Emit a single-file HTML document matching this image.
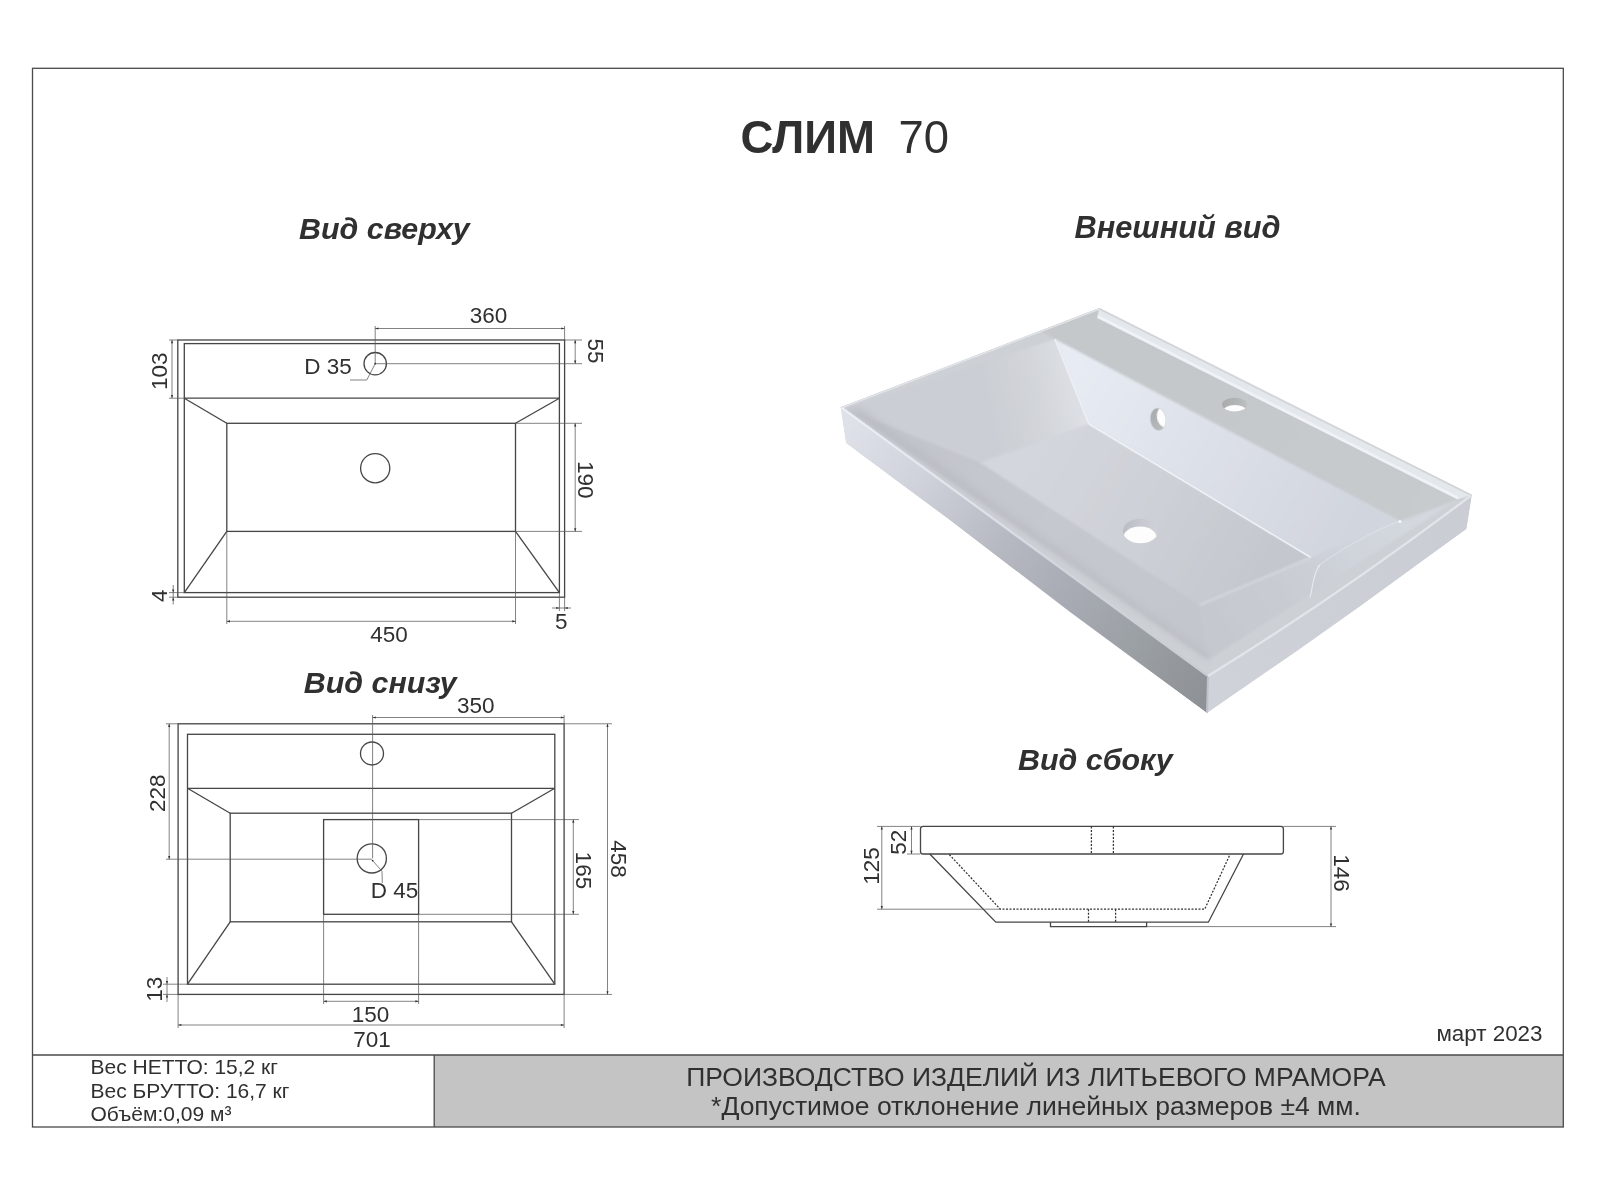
<!DOCTYPE html>
<html lang="ru"><head><meta charset="utf-8"><title>СЛИМ 70</title>
<style>
html,body{margin:0;padding:0;background:#fff;}
body{width:1600px;height:1200px;overflow:hidden;position:relative;font-family:"Liberation Sans",sans-serif;}
svg{position:absolute;left:0;top:0;}
svg text{font-family:"Liberation Sans",sans-serif;fill:#303030;opacity:.999;}
.m{stroke:#464646;stroke-width:1.32;fill:none;}
.t{stroke:#5a5a5a;stroke-width:0.75;fill:none;}
.dot{stroke:#333;stroke-width:1.25;fill:none;stroke-dasharray:2 1.5;}
.ah{fill:#333;stroke:none;}
.d{font-size:22.5px;}
.vt{font-size:30.4px;font-weight:bold;font-style:italic;}
.fr{stroke:#4a4a4a;stroke-width:1.3;fill:none;}
</style></head><body>
<svg width="1600" height="1200" viewBox="0 0 1600 1200">
<rect x="434.2" y="1055" width="1129" height="72" fill="#c4c4c4"/>
<rect class="fr" x="32.5" y="68.3" width="1530.8" height="1058.7" />
<line class="fr" x1="32.5" y1="1055" x2="1563.3" y2="1055"/>
<line class="fr" x1="434.2" y1="1055" x2="434.2" y2="1127"/>
<text x="740.5" y="152.5" font-size="45.6" font-weight="bold" text-anchor="start">СЛИМ</text>
<text x="898.5" y="152.5" font-size="45.4" text-anchor="start">70</text>
<text class="vt" x="299" y="238.5" text-anchor="start">Вид сверху</text>
<text class="vt" x="1074.6" y="237.8" text-anchor="start" style="font-size:30.7px">Внешний вид</text>
<text class="vt" x="303.8" y="692.7" text-anchor="start">Вид снизу</text>
<text class="vt" x="1018" y="769.5" text-anchor="start">Вид сбоку</text>
<text x="90.5" y="1074" font-size="21" text-anchor="start">Вес НЕТТО: 15,2 кг</text>
<text x="90.5" y="1097.5" font-size="21" text-anchor="start">Вес БРУТТО: 16,7 кг</text>
<text x="90.5" y="1120.7" font-size="21" text-anchor="start">Объём:0,09 м³</text>
<text x="1036" y="1086.3" font-size="26.5" text-anchor="middle">ПРОИЗВОДСТВО ИЗДЕЛИЙ ИЗ ЛИТЬЕВОГО МРАМОРА</text>
<text x="1036" y="1115" font-size="26.5" text-anchor="middle">*Допустимое отклонение линейных размеров ±4 мм.</text>
<text x="1542.5" y="1040.5" font-size="22.4" text-anchor="end">март 2023</text>
<rect class="m" x="177.8" y="340" width="386.8" height="257.2" />
<rect class="m" x="184.3" y="343.6" width="375.1" height="249.0" />
<line class="m" x1="184.3" y1="398.2" x2="559.4" y2="398.2"/>
<rect class="m" x="226.8" y="423.3" width="288.7" height="108.1" />
<line class="m" x1="184.3" y1="398.2" x2="226.8" y2="423.3"/>
<line class="m" x1="559.4" y1="398.2" x2="515.5" y2="423.3"/>
<line class="m" x1="184.3" y1="592.6" x2="226.8" y2="531.4"/>
<line class="m" x1="559.4" y1="592.6" x2="515.5" y2="531.4"/>
<circle class="m" cx="375.2" cy="363.7" r="11.2"/>
<circle class="m" cx="375.2" cy="468.2" r="14.6"/>
<line class="t" x1="375.2" y1="326" x2="375.2" y2="363.7"/>
<line class="t" x1="564.6" y1="326" x2="564.6" y2="340"/>
<line class="t" x1="375.2" y1="328.5" x2="564.6" y2="328.5"/>
<path class="ah" d="M375.2 328.5 L378.4 327.4 L378.4 329.6Z"/>
<path class="ah" d="M564.6 328.5 L561.4 327.4 L561.4 329.6Z"/>
<text class="d" x="488.5" y="323.3" text-anchor="middle">360</text>
<line class="t" x1="375.2" y1="363.7" x2="582" y2="363.7"/>
<line class="t" x1="564.6" y1="340" x2="582" y2="340"/>
<line class="t" x1="575.2" y1="340" x2="575.2" y2="363.7"/>
<path class="ah" d="M575.2 340 L574.1 343.2 L576.3000000000001 343.2Z"/>
<path class="ah" d="M575.2 363.7 L574.1 360.5 L576.3000000000001 360.5Z"/>
<text class="d" x="588.3" y="351" text-anchor="middle" transform="rotate(90 588.3 351)">55</text>
<line class="t" x1="515.5" y1="423.3" x2="582" y2="423.3"/>
<line class="t" x1="515.5" y1="531.4" x2="582" y2="531.4"/>
<line class="t" x1="575.2" y1="423.3" x2="575.2" y2="531.4"/>
<path class="ah" d="M575.2 423.3 L574.1 426.5 L576.3000000000001 426.5Z"/>
<path class="ah" d="M575.2 531.4 L574.1 528.1999999999999 L576.3000000000001 528.1999999999999Z"/>
<text class="d" x="578" y="479.8" text-anchor="middle" transform="rotate(90 578 479.8)">190</text>
<line class="t" x1="169" y1="340" x2="177.8" y2="340"/>
<line class="t" x1="169" y1="398.2" x2="184.3" y2="398.2"/>
<line class="t" x1="172" y1="340" x2="172" y2="398.2"/>
<path class="ah" d="M172 340 L170.9 343.2 L173.1 343.2Z"/>
<path class="ah" d="M172 398.2 L170.9 395.0 L173.1 395.0Z"/>
<text class="d" x="167.3" y="371.3" text-anchor="middle" transform="rotate(-90 167.3 371.3)">103</text>
<line class="t" x1="169" y1="592.6" x2="184.3" y2="592.6"/>
<line class="t" x1="169" y1="597.2" x2="177.8" y2="597.2"/>
<line class="t" x1="173.2" y1="585" x2="173.2" y2="604.5"/>
<path class="ah" d="M173.2 592.6 L172.1 589.4 L174.29999999999998 589.4Z"/>
<path class="ah" d="M173.2 597.2 L172.1 600.4000000000001 L174.29999999999998 600.4000000000001Z"/>
<text class="d" x="166.8" y="595.7" text-anchor="middle" transform="rotate(-90 166.8 595.7)">4</text>
<line class="t" x1="559.4" y1="592.6" x2="559.4" y2="611"/>
<line class="t" x1="564.6" y1="597.2" x2="564.6" y2="611"/>
<line class="t" x1="552" y1="608" x2="571" y2="608"/>
<path class="ah" d="M559.4 608 L556.1999999999999 606.9 L556.1999999999999 609.1Z"/>
<path class="ah" d="M564.6 608 L567.8000000000001 606.9 L567.8000000000001 609.1Z"/>
<text class="d" x="561.3" y="628.6" text-anchor="middle">5</text>
<line class="t" x1="226.8" y1="531.4" x2="226.8" y2="624"/>
<line class="t" x1="515.5" y1="531.4" x2="515.5" y2="624"/>
<line class="t" x1="226.8" y1="621.3" x2="515.5" y2="621.3"/>
<path class="ah" d="M226.8 621.3 L230.0 620.1999999999999 L230.0 622.4Z"/>
<path class="ah" d="M515.5 621.3 L512.3 620.1999999999999 L512.3 622.4Z"/>
<text class="d" x="389" y="642" text-anchor="middle">450</text>
<path class="t" d="M375.2 363.7 L366.8 380 L350 380"/>
<circle class="ah" cx="375.2" cy="363.7" r="0.9"/>
<text class="d" x="328" y="374.4" text-anchor="middle">D 35</text>
<rect class="m" x="178.1" y="723.8" width="386.0" height="270.6" />
<rect class="m" x="187.5" y="734.3" width="367.3" height="249.9" />
<line class="m" x1="187.5" y1="788.3" x2="554.8" y2="788.3"/>
<rect class="m" x="230.2" y="813.2" width="281.3" height="108.6" />
<line class="m" x1="187.5" y1="788.3" x2="230.2" y2="813.2"/>
<line class="m" x1="554.8" y1="788.3" x2="511.5" y2="813.2"/>
<line class="m" x1="187.5" y1="984.2" x2="230.2" y2="921.8"/>
<line class="m" x1="554.8" y1="984.2" x2="511.5" y2="921.8"/>
<rect class="m" x="323.6" y="819.6" width="95.0" height="94.7" />
<circle class="m" cx="372" cy="753.5" r="11.5"/>
<circle class="m" cx="371.8" cy="858.4" r="14.6"/>
<line class="t" x1="372.6" y1="715" x2="372.6" y2="858.4"/>
<line class="t" x1="564.1" y1="715" x2="564.1" y2="723.8"/>
<line class="t" x1="372.6" y1="717.5" x2="564.1" y2="717.5"/>
<path class="ah" d="M372.6 717.5 L375.8 716.4 L375.8 718.6Z"/>
<path class="ah" d="M564.1 717.5 L560.9 716.4 L560.9 718.6Z"/>
<text class="d" x="475.7" y="712.6" text-anchor="middle">350</text>
<line class="t" x1="564.1" y1="723.8" x2="612" y2="723.8"/>
<line class="t" x1="564.1" y1="994.4" x2="612" y2="994.4"/>
<line class="t" x1="607.5" y1="723.8" x2="607.5" y2="994.4"/>
<path class="ah" d="M607.5 723.8 L606.4 727.0 L608.6 727.0Z"/>
<path class="ah" d="M607.5 994.4 L606.4 991.1999999999999 L608.6 991.1999999999999Z"/>
<text class="d" x="611.2" y="859" text-anchor="middle" transform="rotate(90 611.2 859)">458</text>
<line class="t" x1="418.6" y1="819.6" x2="579" y2="819.6"/>
<line class="t" x1="418.6" y1="914.3" x2="579" y2="914.3"/>
<line class="t" x1="573.3" y1="819.6" x2="573.3" y2="914.3"/>
<path class="ah" d="M573.3 819.6 L572.1999999999999 822.8000000000001 L574.4 822.8000000000001Z"/>
<path class="ah" d="M573.3 914.3 L572.1999999999999 911.0999999999999 L574.4 911.0999999999999Z"/>
<text class="d" x="576" y="870.4" text-anchor="middle" transform="rotate(90 576 870.4)">165</text>
<line class="t" x1="166" y1="723.8" x2="178.1" y2="723.8"/>
<line class="t" x1="166" y1="859.2" x2="371.8" y2="859.2"/>
<line class="t" x1="169.2" y1="723.8" x2="169.2" y2="859.2"/>
<path class="ah" d="M169.2 723.8 L168.1 727.0 L170.29999999999998 727.0Z"/>
<path class="ah" d="M169.2 859.2 L168.1 856.0 L170.29999999999998 856.0Z"/>
<text class="d" x="164.9" y="793.3" text-anchor="middle" transform="rotate(-90 164.9 793.3)">228</text>
<line class="t" x1="163" y1="984.2" x2="187.5" y2="984.2"/>
<line class="t" x1="163" y1="994.4" x2="178.1" y2="994.4"/>
<line class="t" x1="167" y1="977" x2="167" y2="1002"/>
<path class="ah" d="M167 984.2 L165.9 981.0 L168.1 981.0Z"/>
<path class="ah" d="M167 994.4 L165.9 997.6 L168.1 997.6Z"/>
<text class="d" x="161.8" y="989.2" text-anchor="middle" transform="rotate(-90 161.8 989.2)">13</text>
<line class="t" x1="323.6" y1="914.3" x2="323.6" y2="1004"/>
<line class="t" x1="418.6" y1="914.3" x2="418.6" y2="1004"/>
<line class="t" x1="323.6" y1="1001.3" x2="418.6" y2="1001.3"/>
<path class="ah" d="M323.6 1001.3 L326.8 1000.1999999999999 L326.8 1002.4Z"/>
<path class="ah" d="M418.6 1001.3 L415.40000000000003 1000.1999999999999 L415.40000000000003 1002.4Z"/>
<text class="d" x="370.5" y="1021.7" text-anchor="middle">150</text>
<line class="t" x1="178.1" y1="994.4" x2="178.1" y2="1028"/>
<line class="t" x1="564.1" y1="994.4" x2="564.1" y2="1028"/>
<line class="t" x1="178.1" y1="1025" x2="564.1" y2="1025"/>
<path class="ah" d="M178.1 1025 L181.29999999999998 1023.9 L181.29999999999998 1026.1Z"/>
<path class="ah" d="M564.1 1025 L560.9 1023.9 L560.9 1026.1Z"/>
<text class="d" x="372" y="1047.4" text-anchor="middle">701</text>
<path class="t" d="M372.6 860.6 L382 871.2 L382.3 883"/>
<circle class="ah" cx="372.6" cy="860.6" r="0.9"/>
<text class="d" x="394.5" y="898.3" text-anchor="middle">D 45</text>
<rect class="m" x="920.5" y="826.4" width="362.9" height="27.6" rx="2.5" ry="2.5"/>
<path class="m" d="M929.8 854 L995.8 922.2 L1208.4 922.2 L1243.5 854"/>
<path class="dot" d="M949.3 854.5 L1000.3 909.2 L1204.7 909.2 L1230 854.5"/>
<line class="dot" x1="1091.4" y1="826.4" x2="1091.4" y2="854"/>
<line class="dot" x1="1113.4" y1="826.4" x2="1113.4" y2="854"/>
<line class="dot" x1="1088.5" y1="909.2" x2="1088.5" y2="922.2"/>
<line class="dot" x1="1115.6" y1="909.2" x2="1115.6" y2="922.2"/>
<path class="m" d="M1050.5 922.2 L1050.5 926.6 L1146.6 926.6 L1146.6 922.2"/>
<line class="t" x1="877" y1="826.4" x2="920.5" y2="826.4"/>
<line class="t" x1="877" y1="909.2" x2="1000.3" y2="909.2"/>
<line class="t" x1="881.8" y1="826.4" x2="881.8" y2="909.2"/>
<path class="ah" d="M881.8 826.4 L880.6999999999999 829.6 L882.9 829.6Z"/>
<path class="ah" d="M881.8 909.2 L880.6999999999999 906.0 L882.9 906.0Z"/>
<text class="d" x="878.6" y="866" text-anchor="middle" transform="rotate(-90 878.6 866)">125</text>
<line class="t" x1="907" y1="854" x2="920.5" y2="854"/>
<line class="t" x1="911.5" y1="826.4" x2="911.5" y2="854"/>
<path class="ah" d="M911.5 826.4 L910.4 829.6 L912.6 829.6Z"/>
<path class="ah" d="M911.5 854 L910.4 850.8 L912.6 850.8Z"/>
<text class="d" x="906.4" y="842.3" text-anchor="middle" transform="rotate(-90 906.4 842.3)">52</text>
<line class="t" x1="1283.4" y1="826.4" x2="1336" y2="826.4"/>
<line class="t" x1="1146.6" y1="926.6" x2="1336" y2="926.6"/>
<line class="t" x1="1331" y1="826.4" x2="1331" y2="926.6"/>
<path class="ah" d="M1331 826.4 L1329.9 829.6 L1332.1 829.6Z"/>
<path class="ah" d="M1331 926.6 L1329.9 923.4 L1332.1 923.4Z"/>
<text class="d" x="1334" y="873" text-anchor="middle" transform="rotate(90 1334 873)">146</text>
<defs>
<clipPath id="sil"><polygon points="840.5,407 1099.5,307.7 1472,494.5 1466.5,529 1360,606.5 1300,649 1207,713 1070,612 950,520 846,443"/></clipPath>
<clipPath id="topc"><path d="M840.5 407 L1099.5 307.7 L1472 494.5 Q1341 594 1208 676 Z"/></clipPath>
<filter id="b1" x="-5%" y="-5%" width="110%" height="110%"><feGaussianBlur stdDeviation="1.1"/></filter>
<filter id="b2" x="-5%" y="-5%" width="110%" height="110%"><feGaussianBlur stdDeviation="3"/></filter>
<filter id="b05" x="-5%" y="-5%" width="110%" height="110%"><feGaussianBlur stdDeviation="0.6"/></filter>
<linearGradient id="gFront" gradientUnits="userSpaceOnUse" x1="846" y1="430" x2="1207" y2="695"><stop offset="0" stop-color="#dee1e8"/><stop offset="0.2" stop-color="#cfd2da"/><stop offset="0.43" stop-color="#b6b9c2"/><stop offset="0.62" stop-color="#a8abb3"/><stop offset="0.8" stop-color="#9ba0a5"/><stop offset="1" stop-color="#8e9196"/></linearGradient>
<linearGradient id="gRight" gradientUnits="userSpaceOnUse" x1="1208" y1="695" x2="1470" y2="510"><stop offset="0" stop-color="#cfd2d9"/><stop offset="0.5" stop-color="#cccfd6"/><stop offset="1" stop-color="#caced4"/></linearGradient>
<linearGradient id="gLeft" gradientUnits="userSpaceOnUse" x1="1078" y1="385" x2="985" y2="405"><stop offset="0" stop-color="#dde0e5"/><stop offset="0.5" stop-color="#d1d4d9"/><stop offset="1" stop-color="#cbced4"/></linearGradient>
<linearGradient id="gFslope" gradientUnits="userSpaceOnUse" x1="900" y1="440" x2="1180" y2="640"><stop offset="0" stop-color="#c2c5cb"/><stop offset="0.5" stop-color="#c5c8ce"/><stop offset="1" stop-color="#c3c6cc"/></linearGradient>
<linearGradient id="gFloor" gradientUnits="userSpaceOnUse" x1="1040" y1="450" x2="1260" y2="580"><stop offset="0" stop-color="#d3d6dc"/><stop offset="0.45" stop-color="#ced1d7"/><stop offset="1" stop-color="#c4c8ce"/></linearGradient>
<linearGradient id="gBack" gradientUnits="userSpaceOnUse" x1="1070" y1="370" x2="1350" y2="540"><stop offset="0" stop-color="#e7ebf3"/><stop offset="0.2" stop-color="#e3e7ef"/><stop offset="0.5" stop-color="#dce0e8"/><stop offset="1" stop-color="#d1d5de"/></linearGradient>
<linearGradient id="gShelf" gradientUnits="userSpaceOnUse" x1="1100" y1="320" x2="1440" y2="500"><stop offset="0" stop-color="#c5c8cb"/><stop offset="0.5" stop-color="#c6c9cc"/><stop offset="1" stop-color="#c8cbcd"/></linearGradient>
<linearGradient id="gRslope" gradientUnits="userSpaceOnUse" x1="1400" y1="521" x2="1215" y2="640"><stop offset="0" stop-color="#d3d7de"/><stop offset="0.3" stop-color="#cfd3da"/><stop offset="0.6" stop-color="#c9ccd2"/><stop offset="1" stop-color="#c5c8ce"/></linearGradient>
<linearGradient id="gBrim" gradientUnits="userSpaceOnUse" x1="0" y1="0" x2="-5" y2="10"><stop offset="0" stop-color="#d3d6d9"/><stop offset="0.3" stop-color="#e2e5e9"/><stop offset="0.75" stop-color="#eef1f6"/><stop offset="1" stop-color="#e2e5e9"/></linearGradient>
</defs>
<g clip-path="url(#sil)">
<polygon points="840.5,407 1099.5,307.7 1472,494.5 1466.5,529 1207,713 846,443" fill="#cccfd5"/>
<polygon points="840.5,407 1208,676 1207,713 1070,613.5 950,521.5 846,443" fill="url(#gFront)"/>
<polygon points="1208,676 1472,494.5 1466.5,529 1360,606.5 1300,649 1207,713" fill="url(#gRight)"/>
<g clip-path="url(#topc)">
<polygon points="840.5,407 1099.5,307.7 1472,494.5 1341,600 1208,676" fill="#cdd0d5"/>
<g filter="url(#b1)">
<polygon points="846,408.5 1055,339 1089,424 980,462.5" fill="url(#gLeft)"/>
<polygon points="846,408.5 980,462.5 1200,605 1208,660" fill="url(#gFslope)"/>
<polygon points="1089,424 1311,557.5 1200,605 980,462.5" fill="url(#gFloor)"/>
<polygon points="1055,339 1400.5,521 1311,557.5 1089,424" fill="url(#gBack)"/>
<polygon points="1208,660 1200,605 1311,557.5 1400.5,521 1458,499.5" fill="url(#gRslope)"/>
<polygon points="1099,309 1458,499.5 1400.5,521 1055,339 1040,331" fill="url(#gShelf)"/>
</g>
<polygon points="846,408.5 860,408 1208,655 1208,660" fill="#b8bbc1" opacity="0.75" filter="url(#b2)"/>
<path d="M1089 424 L1311 557.5" stroke="#eef1f5" stroke-width="1.6" fill="none" filter="url(#b05)"/>
<path d="M1055 339 L1089 424" stroke="#eceff4" stroke-width="1.8" fill="none" filter="url(#b05)"/>
<path d="M1311 557.5 L1200 605" stroke="#d8dbe0" stroke-width="1.6" fill="none" filter="url(#b1)"/>
<path d="M1400 521 C1370 532 1335 553 1317 567" stroke="#e5e8ed" stroke-width="1.5" fill="none" opacity="0.45" filter="url(#b05)"/>
<path d="M1320 565 C1313 572 1313 588 1310 597" stroke="#eef1f5" stroke-width="1.1" fill="none" opacity="0.8" filter="url(#b05)"/>
<circle cx="1400" cy="521.5" r="1.6" fill="#f4f6fa" filter="url(#b05)"/>
<polygon points="1099.5,307.7 1472,494.5 1458,499.5 1097,318" fill="#e4e7eb" filter="url(#b05)"/>
<path d="M1098 316.5 L1458 498.0" stroke="#eff2f7" stroke-width="2.6" fill="none" filter="url(#b05)"/>
<path d="M1099.5 308.7 L1472 495.5" stroke="#d4d7da" stroke-width="2.4" fill="none" filter="url(#b05)"/>
<path d="M842.5 407.4 L1099.5 308.9" stroke="#e3e6ea" stroke-width="1.6" fill="none" filter="url(#b05)" opacity="0.9"/>
</g>
<linearGradient id="gFrim" gradientUnits="userSpaceOnUse" x1="846" y1="408" x2="1208" y2="676"><stop offset="0" stop-color="#eceff6"/><stop offset="0.3" stop-color="#e2e5ec"/><stop offset="0.6" stop-color="#d3d6dd"/><stop offset="1" stop-color="#c8cbd1"/></linearGradient>
<path d="M841.5 407.6 L1208 676" stroke="url(#gFrim)" stroke-width="2.2" fill="none" filter="url(#b05)"/>
<path d="M1208 676 Q1341 594 1471 495.5" stroke="#e2e5ea" stroke-width="2.2" fill="none" filter="url(#b05)"/>
<path d="M1208 677 L1207 713" stroke="#bfc2c9" stroke-width="2" fill="none" filter="url(#b05)"/>
<clipPath id="hTap"><ellipse cx="1234.6" cy="404.6" rx="12.6" ry="6.8"/></clipPath>
<clipPath id="hOvf"><ellipse cx="1158" cy="419.4" rx="7.6" ry="11.2" transform="rotate(-6 1158 419.4)"/></clipPath>
<clipPath id="hDrn"><ellipse cx="1140.5" cy="531" rx="17.6" ry="12.2"/></clipPath>
<linearGradient id="gTapW" gradientUnits="userSpaceOnUse" x1="1222" y1="399" x2="1247" y2="408"><stop offset="0" stop-color="#a8abab"/><stop offset="0.6" stop-color="#b3b6b6"/><stop offset="1" stop-color="#bfc2c2"/></linearGradient>
<linearGradient id="gOvfW" gradientUnits="userSpaceOnUse" x1="1151" y1="410" x2="1162" y2="430"><stop offset="0" stop-color="#a7aaab"/><stop offset="1" stop-color="#b9bcbe"/></linearGradient>
<linearGradient id="gDrnW" gradientUnits="userSpaceOnUse" x1="1124" y1="522" x2="1157" y2="532"><stop offset="0" stop-color="#babdc3"/><stop offset="0.5" stop-color="#c6c9cf"/><stop offset="1" stop-color="#cfd2d8"/></linearGradient>
<ellipse cx="1234.6" cy="404.6" rx="12.6" ry="6.8" fill="url(#gTapW)" filter="url(#b05)"/>
<g clip-path="url(#hTap)"><ellipse cx="1234.9" cy="411.2" rx="11.6" ry="6.3" fill="#fdfdfd" filter="url(#b05)"/></g>
<ellipse cx="1158" cy="419.4" rx="7.6" ry="11.2" fill="url(#gOvfW)" transform="rotate(-6 1158 419.4)" filter="url(#b05)"/>
<g clip-path="url(#hOvf)"><ellipse cx="1164.3" cy="417" rx="7.4" ry="10.4" fill="#fdfdfd" transform="rotate(-10 1164.3 417)" filter="url(#b05)"/></g>
<ellipse cx="1140.5" cy="531" rx="17.6" ry="12.2" fill="url(#gDrnW)" filter="url(#b05)"/>
<g clip-path="url(#hDrn)"><ellipse cx="1140" cy="537.6" rx="16.6" ry="11.2" fill="#fdfdfd" filter="url(#b05)"/></g>
</g>
</svg></body></html>
